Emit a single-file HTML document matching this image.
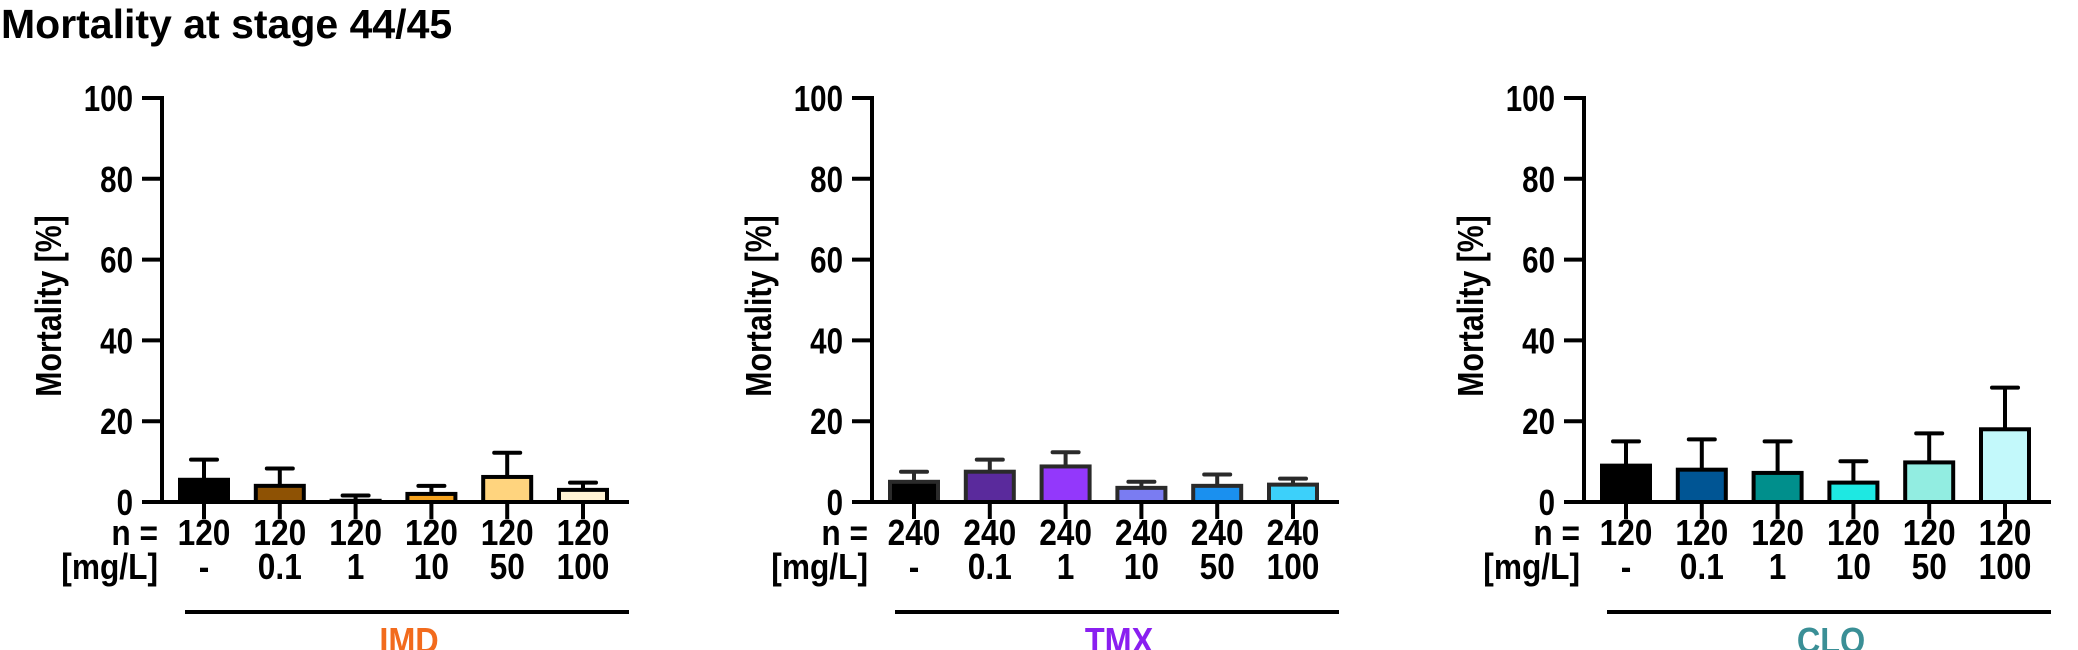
<!DOCTYPE html>
<html><head><meta charset="utf-8">
<style>
html,body{margin:0;padding:0;background:#fff;}
body{width:2078px;height:650px;overflow:hidden;position:relative;font-family:"Liberation Sans",Arial,sans-serif;}
#title{position:absolute;left:1px;top:0px;font-size:41px;font-weight:bold;color:#000;line-height:48px;}
svg{position:absolute;left:0;top:0;}
text{font-family:"Liberation Sans",Arial,sans-serif;font-weight:bold;}
</style></head>
<body>
<div id="title">Mortality at stage 44/45</div>
<svg id="chart" width="2078" height="650"></svg>
<script>
const doses = ["-", "0.1", "1", "10", "50", "100"];
const yTicks = [0, 20, 40, 60, 80, 100];
const groupNames = ["IMD", "TMX", "CLO"];
const groupColors = ["#f26b1d", "#8a1ff0", "#3a8f96"];
const nIMD = [120, 120, 120, 120, 120, 120];
const nTMX = [240, 240, 240, 240, 240, 240];
const nCLO = [120, 120, 120, 120, 120, 120];
const meanIMD = [5.5, 4.0, 0.3, 2.0, 6.2, 3.0];
const errIMD = [5.0, 4.3, 1.3, 2.0, 6.0, 1.8];
const meanTMX = [5.0, 7.5, 8.8, 3.5, 4.0, 4.3];
const errTMX = [2.5, 3.0, 3.5, 1.5, 2.8, 1.5];
const meanCLO = [9.0, 8.0, 7.2, 4.8, 9.8, 18.0];
const errCLO = [6.0, 7.5, 7.8, 5.3, 7.2, 10.3];
const colIMD = ["#000000", "#8e5204", "#c9a36b", "#f5a21e", "#ffd47e", "#fff2d3"];
const colTMX = ["#000000", "#5a2a9c", "#9338fb", "#7a7cf2", "#1a90ef", "#3cd0fa"];
const colCLO = ["#000000", "#005594", "#008f8c", "#1ee8e2", "#92ede1", "#c3f9fb"];

const svg = document.getElementById('chart');
const NS = "http://www.w3.org/2000/svg";
function mk(tag, attrs, parent){
  const e = document.createElementNS(NS, tag);
  for (const k in attrs) e.setAttribute(k, attrs[k]);
  (parent||svg).appendChild(e);
  return e;
}
function ctext(parent, x, y, str, anchor, size, sx, rot, fill){
  const t = mk('text', {x:0, y:0, 'font-size':size, 'text-anchor':anchor, fill:fill||'#000',
    transform:`translate(${x},${y})${rot?' rotate('+rot+')':''} scale(${sx},1)`}, parent);
  t.textContent = str;
  return t;
}
const y0 = 502, y100 = 98;
function yScale(v){ return y0 - (v/100)*(y0 - y100); }
const FS = 36, SX = 0.88;

const panels = [
  {off:0, means:meanIMD, errs:errIMD, cols:colIMD, ns:nIMD, stroke:"#000"},
  {off:710, means:meanTMX, errs:errTMX, cols:colTMX, ns:nTMX, stroke:"#2a2a2a"},
  {off:1422, means:meanCLO, errs:errCLO, cols:colCLO, ns:nCLO, stroke:"#000"}
];
panels.forEach((p, gi) => {
  const g = mk('g', {});
  
  
  const ax = 162 + p.off;
  function xScale(i){ return ax + 42 + i*75.8; }
  const yl = mk('line', {x1:ax, y1:y100-2, x2:ax, y2:y0+2, stroke:'#000','stroke-width':4}, g);
  
  
  yTicks.forEach(t => {
    const yy = yScale(t);
    mk('line', {x1:ax-20, y1:yy, x2:ax, y2:yy, stroke:'#000','stroke-width':4}, g);
    const tl = ctext(g, ax-29, yy+13, String(t), 'end', FS, 0.82);
    
    
  });
  const yt = ctext(g, ax-101, 306, 'Mortality [%]', 'middle', FS, 0.84, -90);
  
  
  p.means.forEach((m, i) => {
    const cx = xScale(i), w = 48;
    const top = yScale(m + p.errs[i]);
    const eb = mk('line', {x1:cx, y1:yScale(m), x2:cx, y2:top, stroke:p.stroke,'stroke-width':4}, g);
    
    
    mk('line', {x1:cx-13, y1:top, x2:cx+13, y2:top, stroke:p.stroke,'stroke-width':4,'stroke-linecap':'round'}, g);
    const b = mk('rect', {x:cx-w/2, y:yScale(m), width:w, height:Math.max(0.5, y0-yScale(m)), fill:p.cols[i], stroke:p.stroke, 'stroke-width':4}, g);
    
    
    mk('line', {x1:cx, y1:y0, x2:cx, y2:y0+17, stroke:'#000','stroke-width':4}, g);
    const nt = ctext(g, cx, 545, String(p.ns[i]), 'middle', FS, SX);
    
    
    const dt = ctext(g, cx, 579, doses[i], 'middle', FS, SX);
    
    
  });
  const xl = mk('line', {x1:ax-20, y1:y0, x2:ax+467, y2:y0, stroke:'#000','stroke-width':4}, g);
  
  
  const nl = ctext(g, ax-4, 545, 'n =', 'end', FS, SX);
  
  
  const ml = ctext(g, ax-4, 579, '[mg/L]', 'end', FS, SX);
  
  
  const gl = mk('line', {x1:ax+23, y1:612, x2:ax+467, y2:612, stroke:'#000','stroke-width':4}, g);
  
  
  const gt = ctext(g, ax+247, 653, groupNames[gi], 'middle', 36, 0.9, 0, groupColors[gi]);
  
  
});
</script>
</body></html>
